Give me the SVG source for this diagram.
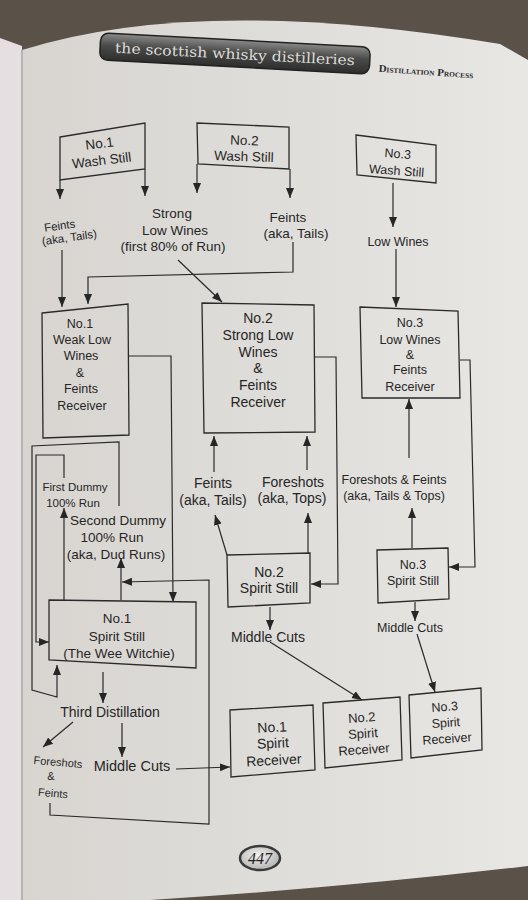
<svg xmlns="http://www.w3.org/2000/svg" width="528" height="900" viewBox="0 0 528 900">
<defs>
<linearGradient id="pg" x1="0" y1="0" x2="1" y2="0">
<stop offset="0" stop-color="#d8d5d1"/>
<stop offset="0.5" stop-color="#dfddd9"/>
<stop offset="1" stop-color="#e8e7e4"/>
</linearGradient>
<linearGradient id="ban" x1="0" y1="0" x2="0" y2="1">
<stop offset="0" stop-color="#8a8a88"/>
<stop offset="0.45" stop-color="#4a4a48"/>
<stop offset="1" stop-color="#2e2e2d"/>
</linearGradient>
<radialGradient id="ov" cx="0.45" cy="0.4" r="0.7">
<stop offset="0" stop-color="#f2f2f0"/>
<stop offset="1" stop-color="#a9a9a6"/>
</radialGradient>
<marker id="ah" viewBox="0 0 10 10" refX="10" refY="5" markerWidth="10" markerHeight="10" markerUnits="userSpaceOnUse" orient="auto">
<path d="M0,1 L10,5 L0,9 z" fill="#262626"/>
</marker>
<style>
.bx{fill:none;stroke:#2a2a2a;stroke-width:1.3}
.ln{fill:none;stroke:#2a2a2a;stroke-width:1.2}
.ar{fill:none;stroke:#2a2a2a;stroke-width:1.2;marker-end:url(#ah)}
text{font-family:"Liberation Sans",Arial,sans-serif;fill:#262626;text-anchor:middle}
.t14{font-size:14px}
.t13{font-size:13.5px}
.t12{font-size:12.5px}
.t11{font-size:11.5px}
</style>
</defs>
<rect x="0" y="0" width="528" height="900" fill="#5a5249"/>
<path d="M0,38 L22,46 L22,900 L0,900 Z" fill="#e6dfe2"/>
<path d="M22,50 Q200,-6 500,44 L528,60 L528,866 Q340,888 150,900 L22,900 Z" fill="url(#pg)"/>
<path d="M22,50 L22,900" stroke="#b8b2b0" stroke-width="2"/>

<g id="header">
<g transform="rotate(3 235 53)">
<rect x="100" y="40" width="270" height="27" rx="8" fill="url(#ban)" stroke="#222" stroke-width="1.5"/>
<text x="235" y="59" style="font-family:'DejaVu Serif',serif;font-size:14px;fill:#dcdcda" textLength="240" lengthAdjust="spacingAndGlyphs">the scottish whisky distilleries</text>
</g>
<text x="426" y="75" transform="rotate(4 426 72)" style="font-family:'Liberation Serif',serif;font-size:10.5px;font-weight:bold;font-variant:small-caps;fill:#2a2a2a" textLength="95" lengthAdjust="spacingAndGlyphs">Distillation Process</text>
</g>

<g id="connectors">
<polyline class="ar" points="60,180 60,199"/>
<polyline class="ar" points="145,169 145,196"/>
<polyline class="ar" points="197,164 197,193"/>
<polyline class="ar" points="290,169 290,198"/>
<polyline class="ar" points="393,183 393,227"/>
<polyline class="ar" points="396,249 396,307"/>
<polyline class="ar" points="62,250 62,307"/>
<polyline class="ar" points="293,242 293,272 88,277 88,304"/>
<polyline class="ar" points="178,260 222,302"/>
<polyline class="ar" points="128,356 171,356 173,602"/>
<polyline class="ar" points="315,357 336,357 338,584 311,584"/>
<polyline class="ar" points="460,360 470,360 475,567 449,567"/>
<polyline class="ar" points="214,472 214,436"/>
<polyline class="ar" points="307,470 307,436"/>
<polyline class="ar" points="227,555 215,515"/>
<polyline class="ar" points="308,553 308,513"/>
<polyline class="ar" points="270,607 270,630"/>
<polyline class="ar" points="270,642 362,700"/>
<polyline class="ar" points="409,458 409,399"/>
<polyline class="ar" points="412,548 412,508"/>
<polyline class="ar" points="415,602 415,621"/>
<polyline class="ar" points="417,634 435,692"/>
<polyline class="ar" points="64,600 64,508"/>
<polyline class="ar" points="64,478 64,455 36,455 36,642 49,642"/>
<polyline class="ar" points="121,600 121,558"/>
<polyline class="ar" points="119,506 119,442 32,446 32,690 57,697 57,665"/>
<polyline class="ar" points="50,803 50,815 209,824 209,580 122,582"/>
<polyline class="ar" points="103,672 103,703"/>
<polyline class="ar" points="73,722 43,747"/>
<polyline class="ar" points="122,723 122,757"/>
<polyline class="ar" points="176,769 230,767"/>
</g>

<g id="wash-still-1">
<polygon class="bx" points="60,137 145,123 145,169 60,180"/>
<g transform="rotate(-7 101 155)" class="t13"><text x="101" y="148">No.1</text><text x="101" y="165">Wash Still</text></g>
</g>
<g id="wash-still-2">
<polygon class="bx" points="197,123 289,127 289,169 198,164"/>
<g transform="rotate(2 244 152)" class="t13"><text x="244" y="145">No.2</text><text x="244" y="161">Wash Still</text></g>
</g>
<g id="wash-still-3">
<polygon class="bx" points="356,135 436,145 436,183 357,175"/>
<g transform="rotate(4 397 165)" class="t12"><text x="397" y="158">No.3</text><text x="397" y="175">Wash Still</text></g>
</g>

<g id="label-feints-1" class="t11" transform="rotate(-8 65 235)">
<text x="61" y="229">Feints</text><text x="69" y="242">(aka, Tails)</text>
</g>
<g id="label-strong-low-wines" class="t13">
<text x="172" y="218">Strong</text><text x="175" y="235">Low Wines</text><text x="173" y="251">(first 80% of Run)</text>
</g>
<g id="label-feints-2" class="t13">
<text x="288" y="222">Feints</text><text x="296" y="238">(aka, Tails)</text>
</g>
<g id="label-low-wines" class="t12">
<text x="398" y="246">Low Wines</text>
</g>

<g id="weak-low-wines-receiver-1">
<polygon class="bx" points="42,313 128,304 129,435 43,438"/>
<g class="t12"><text x="80" y="328">No.1</text><text x="82" y="344">Weak Low</text><text x="81" y="360">Wines</text><text x="80" y="377">&amp;</text><text x="81" y="393">Feints</text><text x="82" y="410">Receiver</text></g>
</g>
<g id="strong-low-wines-receiver-2">
<polygon class="bx" points="202,303 314,305 315,432 204,433"/>
<g class="t14"><text x="258" y="323">No.2</text><text x="258" y="340">Strong Low</text><text x="258" y="357">Wines</text><text x="258" y="373">&amp;</text><text x="258" y="390">Feints</text><text x="258" y="407">Receiver</text></g>
</g>
<g id="low-wines-receiver-3">
<polygon class="bx" points="360,307 458,311 460,398 362,398"/>
<g class="t12"><text x="410" y="327">No.3</text><text x="410" y="344">Low Wines</text><text x="410" y="359">&amp;</text><text x="410" y="374">Feints</text><text x="410" y="391">Receiver</text></g>
</g>

<g id="label-first-dummy" class="t11">
<text x="75" y="491">First Dummy</text><text x="73" y="507">100% Run</text>
</g>
<g id="label-second-dummy" class="t13">
<text x="118" y="525">Second Dummy</text><text x="112" y="542">100% Run</text><text x="116" y="559">(aka, Dud Runs)</text>
</g>
<g id="label-feints-tails-2" class="t14">
<text x="213" y="488">Feints</text><text x="213" y="505">(aka, Tails)</text>
</g>
<g id="label-foreshots-tops-2" class="t14">
<text x="293" y="487">Foreshots</text><text x="292" y="503">(aka, Tops)</text>
</g>
<g id="label-foreshots-feints-3" class="t12">
<text x="394" y="484">Foreshots &amp; Feints</text><text x="394" y="500">(aka, Tails &amp; Tops)</text>
</g>

<g id="spirit-still-1">
<polygon class="bx" points="49,600 196,602 196,668 49,660"/>
<g class="t13"><text x="117" y="623">No.1</text><text x="117" y="641">Spirit Still</text><text x="119" y="658">(The Wee Witchie)</text></g>
</g>
<g id="spirit-still-2">
<polygon class="bx" points="227,555 310,553 310,603 228,607"/>
<g class="t14"><text x="269" y="577">No.2</text><text x="269" y="593">Spirit Still</text></g>
</g>
<g id="spirit-still-3">
<polygon class="bx" points="377,550 448,548 449,599 378,603"/>
<g class="t12"><text x="413" y="569">No.3</text><text x="413" y="585">Spirit Still</text></g>
</g>

<g id="label-middle-cuts-2" class="t14"><text x="268" y="642">Middle Cuts</text></g>
<g id="label-middle-cuts-3" class="t12"><text x="410" y="632">Middle Cuts</text></g>
<g id="label-third-distillation" class="t14"><text x="110" y="717">Third Distillation</text></g>
<g id="label-foreshots-feints-1" style="font-size:11px">
<text x="58" y="766" transform="rotate(5 58 762)">Foreshots</text><text x="51" y="780">&amp;</text><text x="53" y="797" transform="rotate(5 53 793)">Feints</text>
</g>
<g id="label-middle-cuts-1" style="font-size:14.5px"><text x="132" y="771">Middle Cuts</text></g>

<g id="spirit-receiver-1">
<polygon class="bx" points="230,710 313,705 315,770 231,777"/>
<g class="t14" transform="rotate(-3 273 745)"><text x="273" y="732">No.1</text><text x="273" y="748">Spirit</text><text x="273" y="765">Receiver</text></g>
</g>
<g id="spirit-receiver-2">
<polygon class="bx" points="323,703 400,697 402,760 325,768"/>
<g style="font-size:13px" transform="rotate(-4 363 735)"><text x="363" y="722">No.2</text><text x="363" y="738">Spirit</text><text x="363" y="754">Receiver</text></g>
</g>
<g id="spirit-receiver-3">
<polygon class="bx" points="409,695 481,688 482,750 411,758"/>
<g class="t12" transform="rotate(-4 446 725)"><text x="446" y="711">No.3</text><text x="446" y="727">Spirit</text><text x="446" y="743">Receiver</text></g>
</g>

<g id="page-number">
<ellipse cx="260" cy="858" rx="20" ry="12" fill="url(#ov)" stroke="#3a3a3a" stroke-width="2.5"/>
<text x="260" y="864" style="font-family:'Liberation Serif',serif;font-style:italic;font-size:16px;fill:#222">447</text>
</g>
</svg>
